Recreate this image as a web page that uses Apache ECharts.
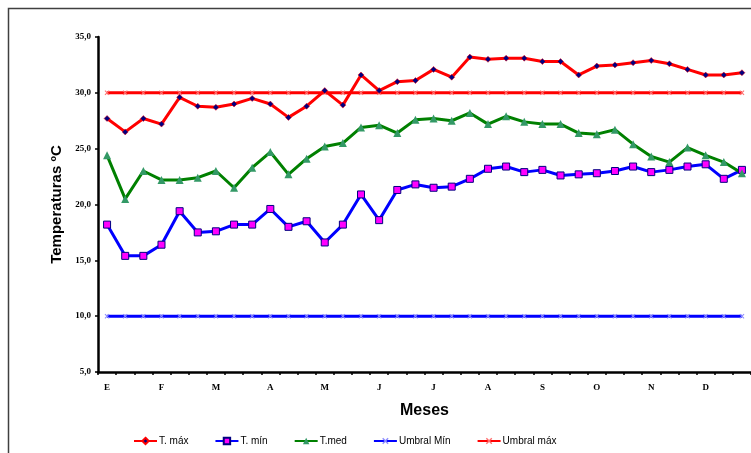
<!DOCTYPE html>
<html>
<head>
<meta charset="utf-8">
<script src="https://cdn.jsdelivr.net/npm/echarts@6/dist/echarts.min.js"></script>
<style>
  html, body { margin: 0; padding: 0; background: #fff; }
  #chart { width: 751px; height: 453px; }
</style>
</head>
<body>
<div id="chart"></div>
<script>
// Months of the year, each split into three ten-day periods (decades)
const months = ['E', 'F', 'M', 'A', 'M', 'J', 'J', 'A', 'S', 'O', 'N', 'D'];
const decades = [1, 2, 3];

// Ten-day temperatures (ºC)
const tMax = [27.7, 26.5, 27.7, 27.2, 29.6, 28.8, 28.7, 29.0, 29.5, 29.0, 27.8, 28.8,
              30.2, 28.9, 31.6, 30.2, 31.0, 31.1, 32.1, 31.4, 33.2, 33.0, 33.1, 33.1,
              32.8, 32.8, 31.6, 32.4, 32.5, 32.7, 32.9, 32.6, 32.1, 31.6, 31.6, 31.8];
const tMin = [18.2, 15.4, 15.4, 16.4, 19.4, 17.5, 17.6, 18.2, 18.2, 19.6, 18.0, 18.5,
              16.6, 18.2, 20.9, 18.6, 21.3, 21.8, 21.5, 21.6, 22.3, 23.2, 23.4, 22.9,
              23.1, 22.6, 22.7, 22.8, 23.0, 23.4, 22.9, 23.1, 23.4, 23.6, 22.3, 23.1];
const tMed = [24.4, 20.5, 23.0, 22.2, 22.2, 22.4, 23.0, 21.5, 23.3, 24.7, 22.7, 24.1,
              25.2, 25.5, 26.9, 27.1, 26.4, 27.6, 27.7, 27.5, 28.2, 27.2, 27.9, 27.4,
              27.2, 27.2, 26.4, 26.3, 26.7, 25.4, 24.3, 23.8, 25.1, 24.4, 23.8, 22.8];

// Threshold levels
const umbralMin = 10;
const umbralMax = 30;

// Y axis scale
const yMin = 5, yMax = 35, yStep = 5;

// Category keys like "E|1", "E|2", ...; only the month letter is shown
const categories = [];
months.forEach(m => decades.forEach(d => categories.push(m + '|' + d)));
const flat = v => categories.map(() => v);

const xMark = 'path://M0,1.5L1.5,0L5,3.5L8.5,0L10,1.5L6.5,5L10,8.5L8.5,10L5,6.5L1.5,10L0,8.5L3.5,5Z';

const chart = echarts.init(document.getElementById('chart'), null, { renderer: 'canvas' });

chart.setOption({
  animation: false,
  backgroundColor: '#ffffff',
  graphic: [{
    type: 'rect',
    shape: { x: 8.5, y: 8.5, width: 780, height: 480 },
    style: { fill: 'none', stroke: '#404040', lineWidth: 1.5 },
    silent: true,
    z: 0
  }],
  grid: { left: 98, top: 37, width: 659, height: 335 },
  legend: {
    left: 128,
    top: 431,
    itemWidth: 23,
    itemHeight: 8,
    itemGap: 26,
    textStyle: { fontFamily: 'Arial, "Liberation Sans", sans-serif', fontSize: 10, color: '#000', padding: [0, 0, 0, -3] },
    data: ['T. máx', 'T. mín', 'T.med', 'Umbral Mín', 'Umbral máx']
  },
  xAxis: {
    type: 'category',
    data: categories,
    boundaryGap: true,
    name: 'Meses',
    nameLocation: 'middle',
    nameGap: 31,
    nameTextStyle: { fontFamily: 'Arial, "Liberation Sans", sans-serif', fontWeight: 'bold', fontSize: 16, color: '#000' },
    axisLine: { lineStyle: { color: '#000', width: 2.5 } },
    axisTick: { show: true, interval: 0, length: 3, lineStyle: { color: '#000', width: 1.5 } },
    axisLabel: {
      interval: 2,
      margin: 11,
      fontFamily: '"Times New Roman", "Liberation Serif", serif',
      fontWeight: 'bold',
      fontSize: 9,
      color: '#000',
      formatter: v => v.split('|')[0]
    },
    splitLine: { show: false }
  },
  yAxis: {
    type: 'value',
    min: yMin,
    max: yMax,
    interval: yStep,
    name: 'Temperaturas ºC',
    nameLocation: 'middle',
    nameGap: 33,
    nameRotate: 90,
    nameTextStyle: { fontFamily: 'Arial, "Liberation Sans", sans-serif', fontWeight: 'bold', fontSize: 15, color: '#000' },
    axisLine: { show: true, lineStyle: { color: '#000', width: 2.5 } },
    axisTick: { show: true, length: 3, lineStyle: { color: '#000', width: 1.5 } },
    axisLabel: {
      margin: 7,
      fontFamily: '"Times New Roman", "Liberation Serif", serif',
      fontWeight: 'bold',
      fontSize: 9,
      color: '#000',
      formatter: v => v.toFixed(1).replace('.', ',')
    },
    splitLine: { show: false }
  },
  series: [
    {
      name: 'T. máx',
      type: 'line',
      data: tMax,
      symbol: 'diamond',
      symbolSize: 6,
      lineStyle: { color: '#ff0000', width: 3 },
      itemStyle: { color: '#000080', borderColor: '#ff0000', borderWidth: 0.5 },
      z: 5
    },
    {
      name: 'T. mín',
      type: 'line',
      data: tMin,
      symbol: 'rect',
      symbolSize: 7,
      lineStyle: { color: '#0000ff', width: 3 },
      itemStyle: { color: '#ff00ff', borderColor: '#000080', borderWidth: 1 },
      z: 5
    },
    {
      name: 'T.med',
      type: 'line',
      data: tMed,
      symbol: 'triangle',
      symbolSize: 8,
      lineStyle: { color: '#008000', width: 3 },
      itemStyle: { color: '#339966' },
      z: 5
    },
    {
      name: 'Umbral Mín',
      type: 'line',
      data: flat(umbralMin),
      symbol: xMark,
      symbolSize: 5,
      lineStyle: { color: '#0000ff', width: 3 },
      itemStyle: { color: '#8c8cff' },
      z: 4
    },
    {
      name: 'Umbral máx',
      type: 'line',
      data: flat(umbralMax),
      symbol: xMark,
      symbolSize: 5,
      lineStyle: { color: '#ff0000', width: 3 },
      itemStyle: { color: '#ff7070' },
      z: 4
    }
  ]
});
</script>
</body>
</html>
